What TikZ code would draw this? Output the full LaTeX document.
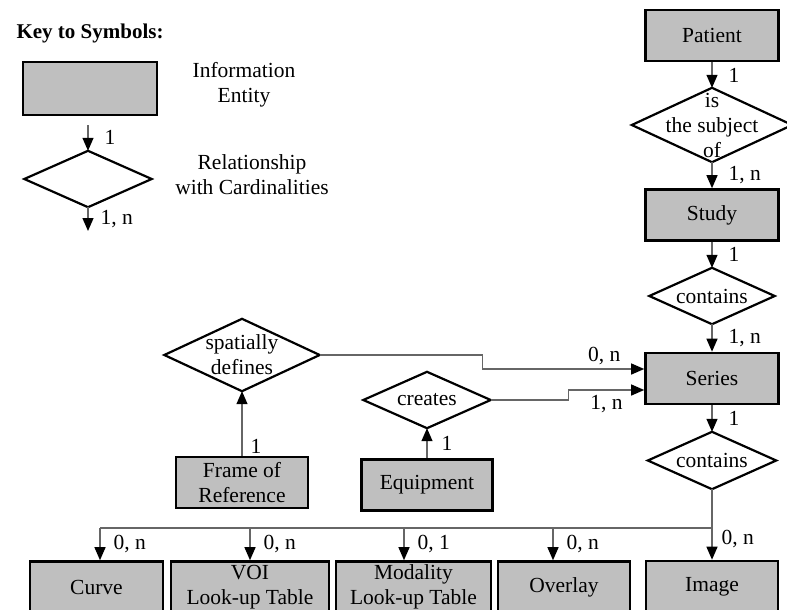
\documentclass[tikz,border=0pt]{standalone}
\usepackage{fontspec}
\setmainfont{Liberation Serif}
\usetikzlibrary{positioning,arrows.meta}

\begin{document}
\begin{tikzpicture}[x=1pt,y=-1pt,on grid,font=\fontsize{21.5}{25}\selectfont,
    >={Triangle[width=11pt,length=13pt,color=black]}]
    \tikzset{ent/.style={draw,line width=2.6pt,fill=black!25,minimum width=133pt,minimum height=51pt,align=center,inner sep=0pt}}
    \tikzset{rel/.style 2 args={minimum width=#1,minimum height=#2,inner sep=0pt,align=center}}
    \tikzset{relline/.style={draw,line width=2.2pt}}
    \tikzset{link/.style={->,draw=black!60,line width=1.3pt}}
    \tikzset{card/.style={right,inner sep=0pt,xshift=16pt}}
    \useasboundingbox (0,0) rectangle (787,610);
    \clip (0,0) rectangle (787,610);

    % key
    \node[anchor=west,font=\fontsize{21}{25}\selectfont\bfseries] (keytitle) at (13,33) {Key to Symbols:};
    \node[ent,minimum width=134pt,minimum height=53pt] (keyent) at (90,88.5) {};
    \node[rel={127pt}{56pt}] (keyrel) at (88,179) {};
    \node[align=center] (keyenttxt) at (244,85) {Information\\Entity};
    \node[align=center] (keyreltxt) at (252,175) {Relationship\\with Cardinalities};
    \coordinate (keyin) at (88,125);
    \coordinate (keyout) at (88,231);

    % main column
    \node[ent] (patient) at (712,35.5) {Patient};
    \node[rel={160pt}{74pt}] (subj) [below=89.5pt of patient] {is\\the subject\\of};
    \node[ent] (study) [below=90pt of subj] {Study};
    \node[rel={125pt}{56pt}] (cont1) [below=81pt of study] {contains};
    \node[ent] (series) [below=82.5pt of cont1] {Series};
    \node[rel={128pt}{57pt}] (cont2) [below=82pt of series] {contains};

    % left side
    \node[rel={155pt}{72pt}] (spat) at (242,355) {spatially\\defines};
    \node[ent,minimum width=132pt] (frame) [below=127.5pt of spat] {Frame of\\Reference};
    \node[rel={127pt}{56pt}] (creates) at (427,400) {creates};
    \node[ent,minimum width=131pt] (equip) [below=85pt of creates] {Equipment};

    % bottom row
    \node[ent] (curve) at (96.5,587) {Curve};
    \node[ent,minimum width=158pt] (voi) at (250,587) {VOI\\Look-up Table};
    \node[ent,minimum width=155pt] (modlut) at (413.5,587) {Modality\\Look-up Table};
    \node[ent,minimum width=132pt] (overlay) at (564,587) {Overlay};
    \node[ent,minimum width=132pt] (image) [below=126pt of cont2] {Image};

    \foreach \r in {keyrel,subj,cont1,cont2,spat,creates}
      \draw[relline] (\r.north) -- (\r.east) -- (\r.south) -- (\r.west) -- cycle;

    \draw[link] (keyin) -- node[card] {1} (keyrel.north);
    \draw[link] (keyrel.south) -- node[card,xshift=-4pt] {1, n} (keyout);

    \draw[link] (patient) -- node[card] {1} (subj);
    \draw[link] (subj) -- node[card] {1, n} (study);
    \draw[link] (study) -- node[card] {1} (cont1);
    \draw[link] (cont1) -- node[card] {1, n} (series);
    \draw[link] (series) -- node[card] {1} (cont2);
    \draw[link] (cont2) -- node[card,pos=0.71,xshift=-7pt] {0, n} (image);

    \draw[link] (frame) -- node[card,pos=0.15,xshift=-8pt] {1} (spat);
    \draw[link] (equip) -- node[card,xshift=-2pt] {1} (creates);
    \draw[link] (spat.east) -- ++(163,0) |- node[pos=0.876,above,inner sep=4pt] {0, n} ([yshift=9.5pt]series.west);
    \draw[link] (creates.east) -- ++(78,0) |- node[pos=0.75,below,inner sep=5pt] {1, n} ([yshift=-11.5pt]series.west);

    \coordinate (bus) at (712,528);
    \foreach \b/\x/\c in {curve/100/{0, n},voi/250/{0, n},modlut/404/{0, 1},overlay/553/{0, n}} {
      \coordinate (to\b) at (\x,528);
      \draw[link] (to\b) -- node[card,xshift=-3pt] {\c} (to\b |- \b.north);
    }
    \draw[link,-] (tocurve) -- (bus);
\end{tikzpicture}
\end{document}
